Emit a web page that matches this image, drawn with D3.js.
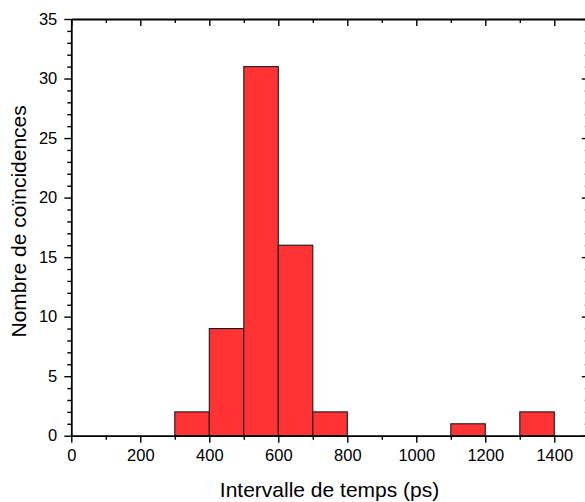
<!DOCTYPE html>
<html>
<head>
<meta charset="utf-8">
<script src="https://cdn.jsdelivr.net/npm/d3@7"></script>
<style>
  html, body { margin: 0; padding: 0; background: #fff; }
  svg { display: block; }
  text { font-family: Arial, "Liberation Sans", sans-serif; fill: #000; }
</style>
</head>
<body>
<svg id="chart" width="585" height="502"></svg>
<script>
// ---- data ----
const binStarts = [0, 100, 200, 300, 400, 500, 600, 700, 800, 900, 1000, 1100, 1200, 1300];
const binWidth = 100;
const counts = [0, 0, 0, 2, 9, 31, 16, 2, 0, 0, 0, 1, 0, 2];
const xTicks = [0, 200, 400, 600, 800, 1000, 1200, 1400];
const xMinorTicks = [100, 300, 500, 700, 900, 1100, 1300, 1500];
const yTicks = [0, 5, 10, 15, 20, 25, 30, 35];
const yMinorTicks = d3.range(0, 36).filter(v => v % 5 !== 0);
const xTitle = "Intervalle de temps (ps)";
const yTitle = "Nombre de coïncidences";

// ---- layout ----
const mLeft = 71.3, mRight = 588.8, mTop = 19, mBottom = 435.7;
const svg = d3.select("#chart");
const x = d3.scaleLinear().domain([0, 1500]).range([mLeft, mRight]);
const y = d3.scaleLinear().domain([0, 35]).range([mBottom, mTop]);

const bins = binStarts.map((s, i) => ({ x0: s, x1: s + binWidth, n: counts[i] }));

// bars
svg.append("g").selectAll("rect").data(bins).join("rect")
  .attr("x", d => x(d.x0))
  .attr("y", d => y(d.n))
  .attr("width", d => x(d.x1) - x(d.x0))
  .attr("height", d => y(0) - y(d.n))
  .attr("fill", "#ff3333")
  .attr("stroke", "#1a1a1a")
  .attr("stroke-width", 1.1);

function styleAxis(g) {
  g.select(".domain").attr("stroke", "#000").attr("stroke-width", 1.8);
  g.selectAll(".tick line").attr("stroke", "#000").attr("stroke-width", 1.4);
  g.selectAll(".tick text").style("font-size", "16.5px").attr("fill", "#000");
}
function styleMinor(g) {
  g.select(".domain").remove();
  g.selectAll("line").attr("stroke", "#000").attr("stroke-width", 1.4);
}

// bottom axis
const gB = svg.append("g").attr("transform", `translate(0,${mBottom})`)
  .call(d3.axisBottom(x).tickValues(xTicks).tickSizeInner(7).tickSizeOuter(0).tickPadding(7).tickFormat(d3.format("d")));
styleAxis(gB);
svg.append("g").attr("transform", `translate(0,${mBottom})`)
  .call(d3.axisBottom(x).tickValues(xMinorTicks).tickSize(4).tickFormat(""))
  .call(styleMinor);

// top axis (inward ticks)
const gT = svg.append("g").attr("transform", `translate(0,${mTop})`)
  .call(d3.axisTop(x).tickValues(xTicks).tickSizeInner(-7).tickSizeOuter(0).tickFormat(""));
styleAxis(gT);
svg.append("g").attr("transform", `translate(0,${mTop})`)
  .call(d3.axisTop(x).tickValues(xMinorTicks).tickSize(-4).tickFormat(""))
  .call(styleMinor);

// left axis
const gL = svg.append("g").attr("transform", `translate(${mLeft},0)`)
  .call(d3.axisLeft(y).tickValues(yTicks).tickSizeInner(7).tickSizeOuter(0).tickPadding(7));
styleAxis(gL);
svg.append("g").attr("transform", `translate(${mLeft},0)`)
  .call(d3.axisLeft(y).tickValues(yMinorTicks).tickSize(4).tickFormat(""))
  .call(styleMinor);

// right axis (inward ticks)
const gR = svg.append("g").attr("transform", `translate(${mRight},0)`)
  .call(d3.axisRight(y).tickValues(yTicks).tickSizeInner(-7).tickSizeOuter(0).tickFormat(""));
styleAxis(gR);
svg.append("g").attr("transform", `translate(${mRight},0)`)
  .call(d3.axisRight(y).tickValues(yMinorTicks).tickSize(-4).tickFormat(""))
  .call(styleMinor);

// titles
svg.append("text")
  .attr("x", (mLeft + mRight) / 2 - 0.5).attr("y", 497)
  .attr("text-anchor", "middle")
  .style("font-size", "21px")
  .text(xTitle);

svg.append("text")
  .attr("transform", `translate(25.5,${(mTop + mBottom) / 2 - 6}) rotate(-90)`)
  .attr("text-anchor", "middle")
  .style("font-size", "21px")
  .text(yTitle);
</script>
</body>
</html>
